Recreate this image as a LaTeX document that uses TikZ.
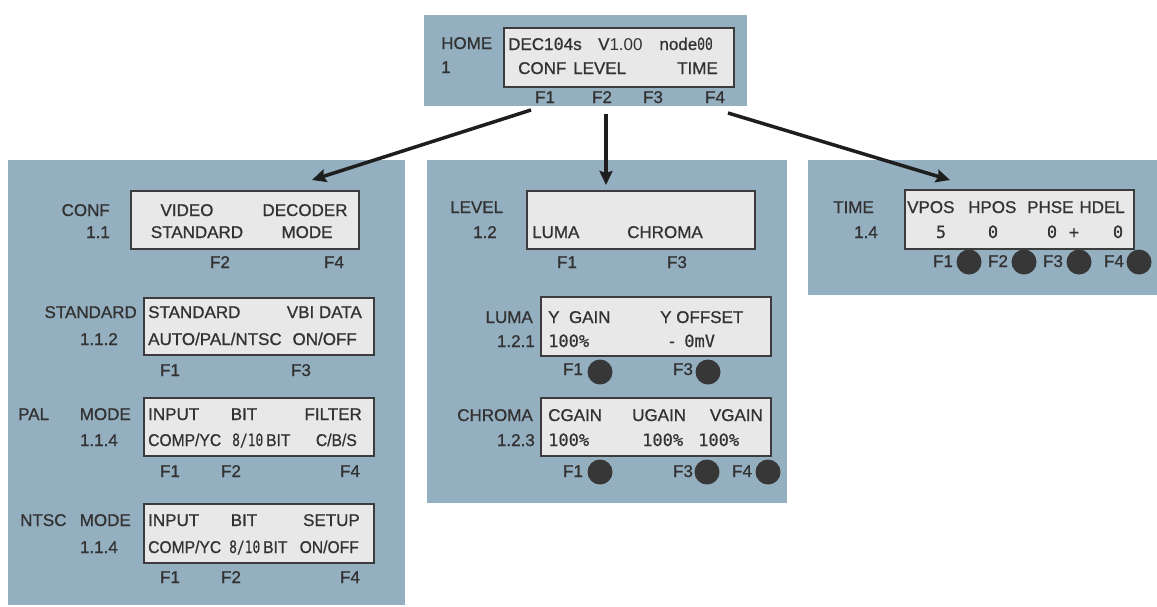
\documentclass[tikz,border=0pt]{standalone}
\usepackage{fontspec}
\setmainfont{Liberation Sans}[FakeBold=1.2,RawFeature={embolden=0.9}]
\newfontfamily\monof{DejaVu Sans Mono}[RawFeature={embolden=0.5}]
\newfontfamily\thinf{Liberation Sans}
\usetikzlibrary{arrows.meta}
\definecolor{panelc}{RGB}{148,175,191}
\definecolor{lcdc}{RGB}{232,232,232}
\definecolor{edgec}{RGB}{60,60,60}
\definecolor{txtc}{RGB}{50,50,50}
\definecolor{btnc}{RGB}{55,55,55}
\definecolor{arrc}{RGB}{30,30,30}
\newcommand{\narrowmono}[1]{\scalebox{0.76}[1]{\monof #1}}
\newcommand{\cnd}[1]{\scalebox{0.92}[1]{#1}}
\tikzset{
  panel/.style={fill=panelc, draw=none, anchor=north west, inner sep=0pt},
  lcd/.style={fill=lcdc, draw=edgec, line width=2pt, anchor=north west, inner sep=0pt},
  txt/.style={inner sep=0pt, text=txtc, font=\fontsize{17pt}{20pt}\selectfont},
  tw/.style={txt, anchor=base west},
  te/.style={txt, anchor=base east},
  tc/.style={txt, anchor=base},
  btn/.style={circle, fill=btnc, minimum size=25pt, inner sep=0pt},
  arr/.style={draw=arrc, line width=3.5pt, -{Stealth[length=14pt,width=13pt,inset=2pt]}}
}
\begin{document}
\begin{tikzpicture}[x=1pt,y=-1pt]
\useasboundingbox[fill=white] (0,0) rectangle (1157,606);
% ---------- HOME ----------
\node[panel, minimum width=323pt, minimum height=91pt] (homeP) at (424,15) {};
\node[lcd, minimum width=230pt, minimum height=59pt] (homeL) at (503,27) {};
\node[tw] (homeT) at (441,49) {HOME};
\node[tw] (homeN) at (441,73) {1};
\node[tw] (homeR1) at (508,50) {DEC1{\monof 0}4s};
\node[tw] (homeR2) at (598,50) {V{\thinf 1.00}};
\node[te] (homeR3) at (713,50) {node{\narrowmono{00}}};
\node[tw] (homeC) at (518,74) {CONF};
\node[tw] (homeLv) at (573,74) {LEVEL};
\node[te] (homeTm) at (718,74) {TIME};
\node[tc] (hF1) at (545,103) {F1};
\node[tc] (hF2) at (602,103) {F2};
\node[tc] (hF3) at (653,103) {F3};
\node[tc] (hF4) at (715,103) {F4};
% ---------- LEFT PANEL ----------
\node[panel, minimum width=397pt, minimum height=445pt] (leftP) at (8,160) {};
% CONF
\node[te] (confT) at (110,216) {CONF};
\node[te] (confN) at (110,238) {1.1};
\node[lcd, minimum width=228pt, minimum height=58pt] (confL) at (130,190) {};
\node[tc] (confA) at (187,216) {VIDEO};
\node[tc] (confB) at (305,216) {DECODER};
\node[tc] (confC) at (197,238) {STANDARD};
\node[tc] (confD) at (307,238) {MODE};
\node[tc] (cF2) at (220,268) {F2};
\node[tc] (cF4) at (334,268) {F4};
% STANDARD
\node[te] (stdT) at (137,318) {STANDARD};
\node[te] (stdN) at (118,345) {1.1.2};
\node[lcd, minimum width=230pt, minimum height=57pt] (stdL) at (143,297) {};
\node[tw] (stdA) at (148,318) {STANDARD};
\node[te] (stdB) at (362,318) {VBI DATA};
\node[tw] (stdC) at (148,345) {AUTO/PAL/NTSC};
\node[te] (stdD) at (357,345) {ON/OFF};
\node[tc] (sF1) at (170,376) {F1};
\node[tc] (sF3) at (301,376) {F3};
% PAL MODE
\node[tw] (palT) at (18,420) {PAL};
\node[te] (palM) at (131,420) {MODE};
\node[te] (palN) at (118,446) {1.1.4};
\node[lcd, minimum width=230pt, minimum height=58pt] (palL) at (143,397) {};
\node[tw] (palA) at (148,420) {INPUT};
\node[tc] (palB) at (244,420) {BIT};
\node[te] (palC) at (362,420) {FILTER};
\node[tw] (palD) at (148,446) {\cnd{COMP/YC}};
\node[tw] (palE) at (232,446) {\narrowmono{8/10}\,\cnd{BIT}};
\node[te] (palF) at (357,446) {\cnd{C/B/S}};
\node[tc] (pF1) at (170,477) {F1};
\node[tc] (pF2) at (231,477) {F2};
\node[tc] (pF4) at (350,477) {F4};
% NTSC MODE
\node[tw] (ntT) at (20,526) {NTSC};
\node[te] (ntM) at (131,526) {MODE};
\node[te] (ntN) at (118,553) {1.1.4};
\node[lcd, minimum width=230pt, minimum height=59pt] (ntL) at (143,503) {};
\node[tw] (ntA) at (148,526) {INPUT};
\node[tc] (ntB) at (244,526) {BIT};
\node[te] (ntC) at (360,526) {SETUP};
\node[tw] (ntD) at (148,553) {\cnd{COMP/YC}};
\node[tw] (ntE) at (229,553) {\narrowmono{8/10}\,\cnd{BIT}};
\node[te] (ntF) at (359,553) {\cnd{ON/OFF}};
\node[tc] (nF1) at (170,583) {F1};
\node[tc] (nF2) at (231,583) {F2};
\node[tc] (nF4) at (350,583) {F4};
% ---------- MIDDLE PANEL ----------
\node[panel, minimum width=360pt, minimum height=343pt] (midP) at (427,160) {};
% LEVEL
\node[tw] (lvT) at (450,213) {LEVEL};
\node[te] (lvN) at (497,238) {1.2};
\node[lcd, minimum width=228pt, minimum height=58pt] (lvL) at (526,190) {};
\node[tw] (lvA) at (532,238) {LUMA};
\node[tw] (lvB) at (627,238) {CHROMA};
\node[tc] (lF1) at (567,268) {F1};
\node[tc] (lF3) at (677,268) {F3};
% LUMA
\node[te] (luT) at (533,323) {LUMA};
\node[te] (luN) at (535,347) {1.2.1};
\node[lcd, minimum width=230pt, minimum height=59pt] (luL) at (540,296) {};
\node[tw] (luA) at (548,323) {Y\ \ GAIN};
\node[tw] (luB) at (660,323) {Y OFFSET};
\node[tw] (luC) at (548,347) {\monof 100\%};
\node[tw] (luD) at (669,347) {-\ \ {\monof 0mV}};
\node[tc] (uF1) at (573,375) {F1};
\node[btn] (uB1) at (600,372) {};
\node[tc] (uF3) at (683,375) {F3};
\node[btn] (uB3) at (708,372) {};
% CHROMA
\node[te] (chT) at (533,421) {CHROMA};
\node[te] (chN) at (535,446) {1.2.3};
\node[lcd, minimum width=230pt, minimum height=58pt] (chL) at (540,397) {};
\node[tw] (chA) at (548,421) {CGAIN};
\node[tw] (chB) at (632,421) {UGAIN};
\node[te] (chC) at (763,421) {VGAIN};
\node[tw] (chD) at (548,446) {\monof 100\%};
\node[tw] (chE) at (642,446) {\monof 100\%};
\node[tw] (chF) at (698,446) {\monof 100\%};
\node[tc] (hcF1) at (573,477) {F1};
\node[btn] (hcB1) at (600,472) {};
\node[tc] (hcF3) at (683,477) {F3};
\node[btn] (hcB3) at (707,472) {};
\node[tc] (hcF4) at (742,477) {F4};
\node[btn] (hcB4) at (768,472) {};
% ---------- RIGHT PANEL ----------
\node[panel, minimum width=349pt, minimum height=135pt] (rightP) at (808,160) {};
\node[tw] (tmT) at (833,213) {TIME};
\node[te] (tmN) at (878,238) {1.4};
\node[lcd, minimum width=229pt, minimum height=59pt] (tmL) at (904,189) {};
\node[tw] (tmA) at (907,213) {VPOS};
\node[tw] (tmB) at (968,213) {HPOS};
\node[tw] (tmC) at (1027,213) {PHSE};
\node[te] (tmD) at (1125,213) {HDEL};
\node[tc] (tmE) at (941,238) {\monof 5};
\node[tc] (tmF) at (993,238) {\monof 0};
\node[tc] (tmG) at (1052,238) {\monof 0};
\node[tc] (tmH) at (1074,238) {\monof +};
\node[tc] (tmI) at (1118,238) {\monof 0};
\node[tc] (tF1) at (943,267) {F1};
\node[btn] (tB1) at (969,262) {};
\node[tc] (tF2) at (998,267) {F2};
\node[btn] (tB2) at (1024,262) {};
\node[tc] (tF3) at (1053,267) {F3};
\node[btn] (tB3) at (1079,262) {};
\node[tc] (tF4) at (1114,267) {F4};
\node[btn] (tB4) at (1139,262) {};
% ---------- ARROWS ----------
\coordinate (a1s) at (531,110);
\coordinate (a1e) at (312,180);
\coordinate (a2s) at (606,114);
\coordinate (a2e) at (606,185);
\coordinate (a3s) at (728,113);
\coordinate (a3e) at (950,180);
\draw[arr] (a1s) -- (a1e);
\draw[arr] (a2s) -- (a2e);
\draw[arr] (a3s) -- (a3e);
\end{tikzpicture}
\end{document}
